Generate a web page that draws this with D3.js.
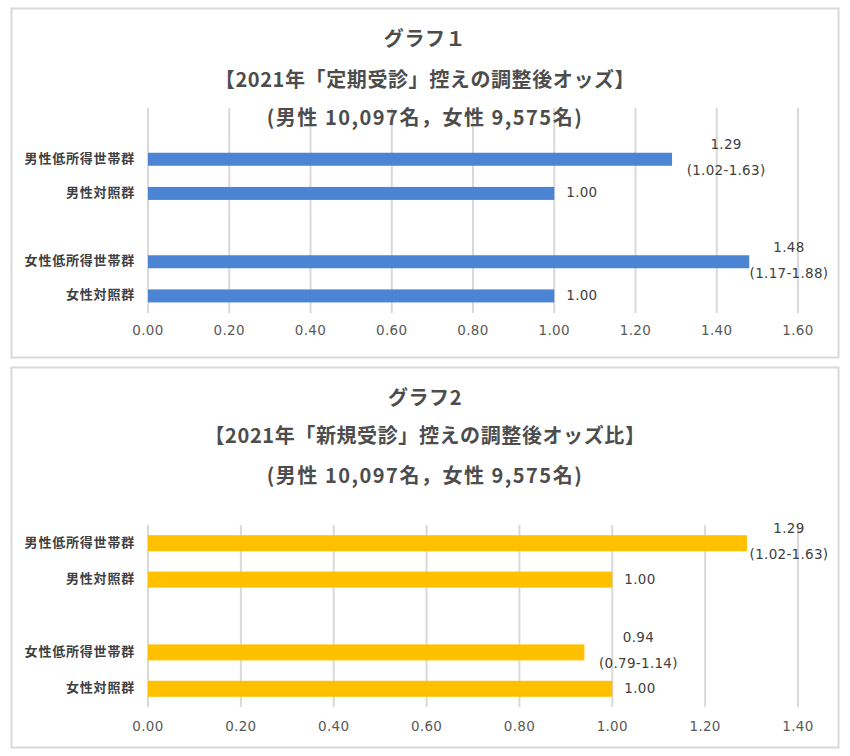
<!DOCTYPE html>
<html>
<head>
<meta charset="utf-8">
<script src="https://cdn.jsdelivr.net/npm/d3@7"></script>
<style>
  body { margin: 0; background: #fff; }
  text { fill: #595959; }
  .jp { font-family: "Noto Sans CJK JP", sans-serif; font-weight: bold; }
  .num { font-family: "DejaVu Sans", Verdana, sans-serif; font-size: 13.5px; letter-spacing: 0.3px; }
</style>
</head>
<body>
<script>
// ---- data ----
var categories = ['男性低所得世帯群', '男性対照群', '女性低所得世帯群', '女性対照群'];

var titles1 = ['グラフ１', '【2021年「定期受診」控えの調整後オッズ】', '(男性 10,097名，女性 9,575名)'];
var odds1   = [1.29, 1.00, 1.48, 1.00];
var ci1     = ['(1.02-1.63)', null, '(1.17-1.88)', null];
var ticks1  = [0, 0.2, 0.4, 0.6, 0.8, 1.0, 1.2, 1.4, 1.6];

var titles2 = ['グラフ2', '【2021年「新規受診」控えの調整後オッズ比】', '(男性 10,097名，女性 9,575名)'];
var odds2   = [1.29, 1.00, 0.94, 1.00];
var ci2     = ['(1.02-1.63)', null, '(0.79-1.14)', null];
var ticks2  = [0, 0.2, 0.4, 0.6, 0.8, 1.0, 1.2, 1.4];

var width = 850, height = 756;

var svg = d3.select('body').append('svg')
    .attr('width', width)
    .attr('height', height);

drawPanel({
  top: 8, bottom: 357, titles: titles1, titleY: [41, 82, 120],
  values: odds1, ci: ci1, ticks: ticks1, color: '#4a84d2',
  // leading blank slot, blank slot between the groups
  slots: ['_a', categories[0], categories[1], '_b', categories[2], categories[3]],
  plotTop: 108, plotBottom: 313, tickY: 331, padding: 0.62
});

drawPanel({
  top: 367, bottom: 747, titles: titles2, titleY: [400, 438, 478],
  values: odds2, ci: ci2, ticks: ticks2, color: '#ffc000',
  slots: [categories[0], categories[1], '_b', categories[2], categories[3]],
  plotTop: 525, plotBottom: 707, tickY: 727, padding: 0.56
});

function drawPanel(c) {
  var g = svg.append('g');

  // frame
  g.append('rect')
      .attr('x', 11.5).attr('y', c.top + 0.5)
      .attr('width', 827).attr('height', c.bottom - c.top)
      .attr('fill', '#fff')
      .attr('stroke', '#d9d9d9')
      .attr('stroke-width', 2);

  var x = d3.scaleLinear()
      .domain([0, d3.max(c.ticks)])
      .range([148, 798]);

  var y = d3.scaleBand()
      .domain(c.slots)
      .range([c.plotTop, c.plotBottom])
      .paddingInner(c.padding)
      .paddingOuter(c.padding / 2);

  // gridlines
  g.selectAll('line.grid')
    .data(c.ticks)
    .enter().append('line')
      .attr('class', 'grid')
      .attr('x1', function(d) { return x(d); })
      .attr('x2', function(d) { return x(d); })
      .attr('y1', c.plotTop)
      .attr('y2', c.plotBottom)
      .attr('stroke', '#d9d9d9')
      .attr('stroke-width', 2);

  // tick labels
  g.selectAll('text.tick')
    .data(c.ticks)
    .enter().append('text')
      .attr('class', 'num tick')
      .attr('x', function(d) { return x(d); })
      .attr('y', c.tickY)
      .attr('text-anchor', 'middle')
      .attr('dominant-baseline', 'middle')
      .text(function(d) { return d3.format('.2f')(d); });

  // titles
  g.selectAll('text.title')
    .data(c.titles)
    .enter().append('text')
      .attr('class', 'jp title')
      .attr('x', 425)
      .attr('y', function(d, i) { return c.titleY[i]; })
      .attr('text-anchor', 'middle')
      .attr('dominant-baseline', 'middle')
      .style('font-size', '20px')
      .style('letter-spacing', function(d, i) { return i == 2 ? '1.5px' : '0.6px'; })
      .style('fill', '#4d4d4d')
      .text(function(d) { return d; });

  var rows = categories.map(function(name, i) {
    return {name: name, value: c.values[i], ci: c.ci[i]};
  });

  var bandMid = function(d) { return y(d.name) + y.bandwidth() / 2; };

  // category labels
  g.selectAll('text.cat')
    .data(rows)
    .enter().append('text')
      .attr('class', 'jp cat')
      .attr('x', 135)
      .attr('y', bandMid)
      .attr('text-anchor', 'end')
      .attr('dominant-baseline', 'middle')
      .style('font-size', '13px')
      .style('letter-spacing', '0.8px')
      .style('fill', '#404040')
      .text(function(d) { return d.name; });

  // bars
  g.selectAll('rect.bar')
    .data(rows)
    .enter().append('rect')
      .attr('class', 'bar')
      .attr('x', x(0))
      .attr('y', function(d) { return y(d.name); })
      .attr('width', function(d) { return x(d.value) - x(0); })
      .attr('height', y.bandwidth())
      .attr('fill', c.color);

  // value labels: single line after bar end, or two lines (value + CI) kept inside the plot
  var right = x.range()[1];
  var labelX = function(d) {
    return d.ci ? Math.min(x(d.value) + 54, right - 9) : x(d.value) + 12;
  };

  g.selectAll('text.val')
    .data(rows)
    .enter().append('text')
      .attr('class', 'num val')
      .attr('x', labelX)
      .attr('y', function(d) { return d.ci ? bandMid(d) - 14 : bandMid(d); })
      .attr('text-anchor', function(d) { return d.ci ? 'middle' : 'start'; })
      .attr('dominant-baseline', 'middle')
      .style('fill', '#404040')
      .text(function(d) { return d3.format('.2f')(d.value); });

  g.selectAll('text.ci')
    .data(rows.filter(function(d) { return d.ci; }))
    .enter().append('text')
      .attr('class', 'num ci')
      .attr('x', labelX)
      .attr('y', function(d) { return bandMid(d) + 12; })
      .attr('text-anchor', 'middle')
      .attr('dominant-baseline', 'middle')
      .style('fill', '#404040')
      .text(function(d) { return d.ci; });
}
</script>
</body>
</html>
